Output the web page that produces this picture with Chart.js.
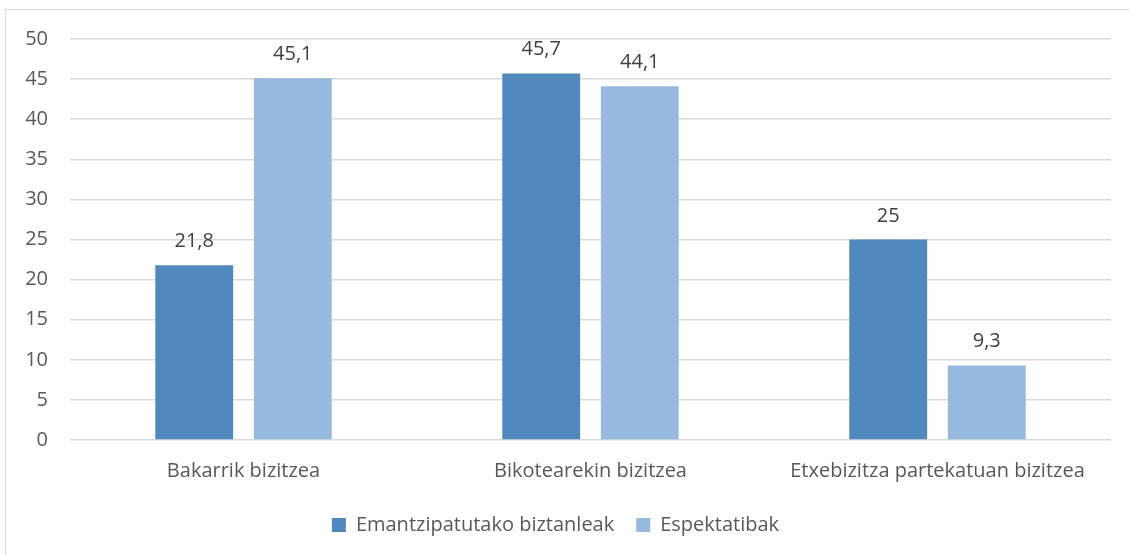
<!DOCTYPE html>
<html lang="eu">
<head>
<meta charset="UTF-8" />
<title>Bizitzeko moduak</title>
<script src="https://cdn.jsdelivr.net/npm/chart.js"></script>
<style>
  html, body { margin: 0; padding: 0; background: #fff; }
  #wrap { position: relative; width: 1129px; height: 555px; }
</style>
</head>
<body>
<div id="wrap"><canvas id="chart"></canvas></div>
<script>
  // datuak
  const categories = ["Bakarrik bizitzea", "Bikotearekin bizitzea", "Etxebizitza partekatuan bizitzea"];
  const seriesNames = ["Emantzipatutako biztanleak", "Espektatibak"];
  const emantzipatuak = [21.8, 45.7, 25];
  const espektatibak = [45.1, 44.1, 9.3];
  const yTicks = [0, 5, 10, 15, 20, 25, 30, 35, 40, 45, 50];

  const FONT = "'Open Sans', 'Noto Sans', sans-serif";

  // balioak barren gainean (koma hamartarrarekin)
  const valueLabels = {
    id: "valueLabels",
    afterDatasetsDraw(chart) {
      const ctx = chart.ctx;
      ctx.save();
      ctx.font = "20px " + FONT;
      ctx.fillStyle = "#404040";
      ctx.textAlign = "center";
      ctx.textBaseline = "alphabetic";
      chart.data.datasets.forEach((ds, i) => {
        chart.getDatasetMeta(i).data.forEach((bar, j) => {
          const txt = String(ds.data[j]).replace(".", ",");
          ctx.fillText(txt, bar.x, bar.y - 18);
        });
      });
      ctx.restore();
    }
  };

  // kanpoko ertza
  const frame = {
    id: "frame",
    beforeDraw(chart) {
      const ctx = chart.ctx;
      ctx.save();
      ctx.strokeStyle = "#d9d9d9";
      ctx.lineWidth = 1;
      ctx.strokeRect(5.5, 9.5, 1130, 560);
      ctx.restore();
    }
  };

  new Chart(document.getElementById("chart"), {
    type: "bar",
    data: {
      labels: categories,
      datasets: [
        { label: seriesNames[0], data: emantzipatuak, backgroundColor: "#4f89bd" },
        { label: seriesNames[1], data: espektatibak, backgroundColor: "#97b9e0" }
      ]
    },
    options: {
      responsive: true,
      maintainAspectRatio: false,
      animation: false,
      categoryPercentage: 0.568,
      barPercentage: 0.79,
      layout: { padding: { left: 0, right: 18, top: 39, bottom: 10 } },
      plugins: {
        legend: {
          position: "bottom",
          labels: {
            font: { family: FONT, size: 20 },
            color: "#595959",
            boxWidth: 14,
            boxHeight: 14,
            padding: 22
          }
        },
        tooltip: { enabled: false }
      },
      scales: {
        x: {
          grid: { display: false, drawTicks: false },
          border: { display: false },
          ticks: { font: { family: FONT, size: 20 }, color: "#595959", padding: 19 },
          afterFit(scale) { scale.height = 53; }
        },
        y: {
          min: 0,
          max: 50,
          afterBuildTicks(scale) { scale.ticks = yTicks.map(v => ({ value: v })); },
          grid: { color: "#d9d9d9", lineWidth: 1.5, drawTicks: false },
          border: { display: false },
          ticks: { font: { family: FONT, size: 20 }, color: "#595959", padding: 22 },
          afterFit(scale) { scale.width = 70; }
        }
      }
    },
    plugins: [valueLabels, frame]
  });
</script>
</body>
</html>
